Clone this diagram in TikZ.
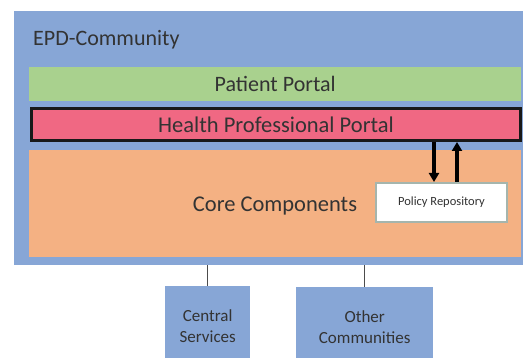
\documentclass[tikz,border=0pt]{standalone}
\usepackage{fontspec}
\setmainfont{Carlito}
\usetikzlibrary{arrows.meta}
\definecolor{epdblue}{HTML}{87A6D6}
\definecolor{portalgreen}{HTML}{A9D18E}
\definecolor{hpppink}{HTML}{F06883}
\definecolor{coreorange}{HTML}{F4B183}
\definecolor{repoedge}{HTML}{A5B5AD}
\definecolor{txt}{HTML}{333333}
\tikzset{
  panel/.style={rectangle, inner sep=0pt, anchor=north west, text=txt},
  flow/.style={line width=3.2pt, -{Triangle[width=10pt,length=9pt]}},
  link/.style={line width=1.2pt, draw=black!70},
}
\begin{document}
\begin{tikzpicture}[x=1pt,y=-1pt]
  \useasboundingbox[fill=white] (0,0) rectangle (523,358);
  % community frame and its layers
  \node[panel, fill=epdblue, minimum width=509pt, minimum height=254pt] (epd) at (14,11) {};
  \node[anchor=west, text=txt, font=\fontsize{22}{26}\selectfont, inner sep=0pt] (title) at (33,40) {EPD-Community};
  \node[panel, fill=portalgreen, minimum width=492pt, minimum height=34pt,
        font=\fontsize{22}{26}\selectfont] (patient) at (29,67) {Patient Portal};
  \node[rectangle, fill=hpppink, draw=black!90, line width=3pt, minimum width=489pt, minimum height=32pt,
        inner sep=0pt, text=txt, font=\fontsize{22.5}{26}\selectfont] (hpp) at (276,124.5) {Health Professional Portal};
  \node[panel, fill=coreorange, minimum width=492pt, minimum height=107pt] (core) at (29,150) {};
  \node[text=txt, font=\fontsize{22.5}{26}\selectfont, inner sep=0pt] (corelabel) at (275,206) {Core Components};
  \node[rectangle, fill=white, draw=repoedge, line width=2pt, minimum width=131pt, minimum height=39pt,
        inner sep=0pt, text=txt, font=\fontsize{12.5}{15}\selectfont] (policy) at (441.5,202.5) {Policy Repository};
  % request / response between portal and repository
  \coordinate (downx) at (434,0);
  \coordinate (upx) at (457,0);
  \draw[flow] (hpp.south -| downx) -- (policy.north -| downx);
  \draw[flow] (policy.north -| upx) -- (hpp.south -| upx);
  % external partners
  \node[panel, fill=epdblue, minimum width=85pt, minimum height=80pt, align=center,
        font=\fontsize{17}{21}\selectfont] (central) at (165,286) {Central\\Services};
  \node[panel, fill=epdblue, minimum width=137pt, minimum height=80pt, align=center,
        font=\fontsize{17}{21}\selectfont] (other) at (296,287) {Other\\Communities};
  \draw[link] (epd.south -| central.north) -- (central.north);
  \draw[link] (epd.south -| other.north) -- (other.north);
\end{tikzpicture}
\end{document}
